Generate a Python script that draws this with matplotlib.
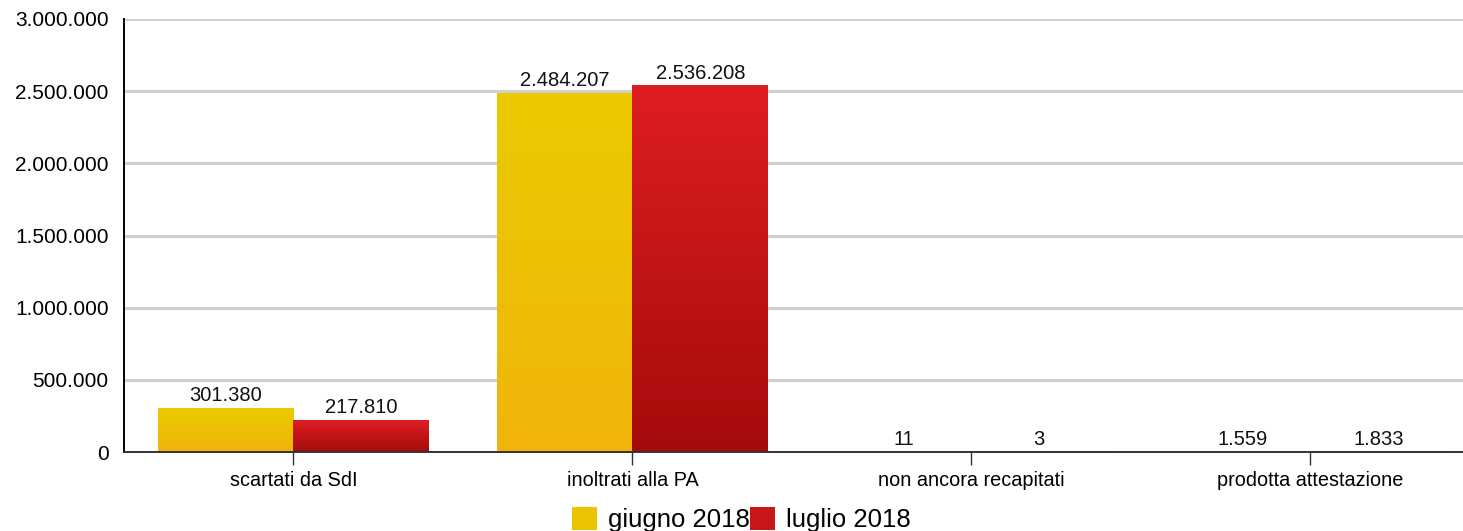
import numpy as np
import matplotlib.pyplot as plt
from matplotlib.colors import LinearSegmentedColormap
from matplotlib.patches import Patch

categories = ["scartati da SdI", "inoltrati alla PA", "non ancora recapitati", "prodotta attestazione"]
giugno = [301380, 2484207, 11, 1559]
luglio = [217810, 2536208, 3, 1833]
series_names = ["giugno 2018", "luglio 2018"]

yticks = [0, 500000, 1000000, 1500000, 2000000, 2500000, 3000000]


def fmt(v):
    return f"{v:,}".replace(",", ".")


plt.rcParams["font.family"] = ["Liberation Sans", "DejaVu Sans"]

fig = plt.figure(figsize=(14.63, 5.31), dpi=100)
ax = fig.add_axes([124 / 1463, 79 / 531, (1463 - 124) / 1463, (452 - 19) / 531])

yellow = LinearSegmentedColormap.from_list("y", ["#f1b40c", "#ebca00"])
red = LinearSegmentedColormap.from_list("r", ["#a50b0b", "#de1e22"])
grad = np.linspace(0, 1, 256).reshape(-1, 1)

width = 0.4
x = np.arange(len(categories))

for vals, cmap, off in [(giugno, yellow, -width / 2), (luglio, red, width / 2)]:
    for xi, v in zip(x, vals):
        left = xi + off - width / 2
        ax.imshow(grad, cmap=cmap, origin="lower", aspect="auto",
                  extent=(left, left + width, 0, v), zorder=2)
        ax.text(xi + off, v + 22000, fmt(v), ha="center", va="bottom",
                fontsize=14.5, color="#111111", zorder=3)

ax.set_xlim(-0.5, 3.45)
ax.set_ylim(0, 3000000)
ax.set_yticks(yticks)
ax.set_yticklabels([fmt(t) for t in yticks], fontsize=15)
ax.set_xticks(x)
ax.set_xticklabels(categories, fontsize=14.3)
ax.tick_params(axis="y", length=0, pad=11)
ax.tick_params(axis="x", length=9, width=1, color="#333333", pad=5)
ax.grid(axis="y", color="#d0d0d0", linewidth=2.2, zorder=0)
ax.set_axisbelow(True)
for s in ["top", "right"]:
    ax.spines[s].set_visible(False)
ax.spines["left"].set_linewidth(1.4)
ax.spines["left"].set_color("#000000")
ax.spines["bottom"].set_linewidth(1.4)
ax.spines["bottom"].set_color("#333333")

handles = [Patch(facecolor="#ecc300"), Patch(facecolor="#c8161a")]
fig.legend(handles, series_names, loc="center", bbox_to_anchor=(0.5065, 0.022),
           ncol=2, frameon=False, fontsize=18.5, handlelength=1.0, handleheight=1.0,
           handletextpad=0.4, columnspacing=0.0, borderaxespad=0, borderpad=0)

fig.savefig("out.png", dpi=100)
